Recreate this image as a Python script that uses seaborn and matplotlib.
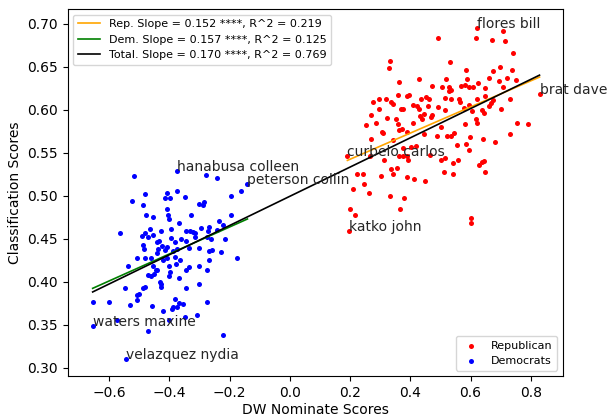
import numpy as np
import matplotlib
matplotlib.use("Agg")
import matplotlib.pyplot as plt
import seaborn as sns
from matplotlib.lines import Line2D

# -----------------------------------------
# Data
# -----------------------------------------
rep_x = [0.621, 0.707, 0.492, 0.618, 0.671, 0.714, 0.740, 0.333, 0.330, 0.532,
         0.585, 0.698, 0.674, 0.736, 0.363, 0.428, 0.519, 0.589, 0.581, 0.596,
         0.625, 0.662, 0.694, 0.722, 0.751, 0.472, 0.505, 0.530, 0.528, 0.536,
         0.567, 0.607, 0.647, 0.709, 0.388, 0.397, 0.359, 0.277, 0.295, 0.319,
         0.337, 0.341, 0.437, 0.452, 0.463, 0.514, 0.534, 0.561, 0.565, 0.621,
         0.649, 0.669, 0.674, 0.731, 0.297, 0.370, 0.377, 0.408, 0.423, 0.430,
         0.459, 0.492, 0.516, 0.578, 0.596, 0.605, 0.638, 0.662, 0.700, 0.268,
         0.324, 0.352, 0.432, 0.439, 0.446, 0.470, 0.472, 0.618, 0.645, 0.253,
         0.286, 0.359, 0.372, 0.408, 0.503, 0.581, 0.623, 0.753, 0.791, 0.306,
         0.310, 0.363, 0.388, 0.446, 0.490, 0.523, 0.536, 0.545, 0.598, 0.643,
         0.682, 0.731, 0.270, 0.344, 0.375, 0.401, 0.419, 0.554, 0.585, 0.596,
         0.191, 0.266, 0.313, 0.361, 0.375, 0.390, 0.392, 0.465, 0.501, 0.516,
         0.541, 0.558, 0.629, 0.638, 0.645, 0.649, 0.222, 0.244, 0.304, 0.335,
         0.344, 0.357, 0.390, 0.412, 0.450, 0.512, 0.541, 0.211, 0.246, 0.262,
         0.333, 0.379, 0.200, 0.217, 0.366, 0.601, 0.603, 0.197, 0.829]
rep_y = [0.695, 0.692, 0.683, 0.683, 0.681, 0.680, 0.666, 0.657, 0.648, 0.655,
         0.646, 0.650, 0.645, 0.646, 0.632, 0.636, 0.636, 0.636, 0.629, 0.627,
         0.631, 0.637, 0.633, 0.637, 0.635, 0.628, 0.627, 0.626, 0.622, 0.623,
         0.628, 0.626, 0.625, 0.626, 0.616, 0.617, 0.617, 0.609, 0.612, 0.612,
         0.609, 0.607, 0.612, 0.615, 0.612, 0.614, 0.612, 0.613, 0.609, 0.612,
         0.616, 0.608, 0.611, 0.613, 0.601, 0.601, 0.601, 0.606, 0.604, 0.601,
         0.604, 0.603, 0.600, 0.602, 0.605, 0.598, 0.600, 0.604, 0.601, 0.594,
         0.590, 0.589, 0.593, 0.589, 0.595, 0.591, 0.594, 0.589, 0.596, 0.582,
         0.585, 0.583, 0.577, 0.584, 0.580, 0.583, 0.584, 0.585, 0.583, 0.574,
         0.573, 0.576, 0.574, 0.572, 0.570, 0.570, 0.569, 0.573, 0.568, 0.566,
         0.563, 0.572, 0.566, 0.565, 0.556, 0.557, 0.558, 0.559, 0.560, 0.553,
         0.546, 0.546, 0.541, 0.546, 0.546, 0.546, 0.541, 0.547, 0.542, 0.544,
         0.538, 0.541, 0.536, 0.539, 0.540, 0.528, 0.525, 0.525, 0.523, 0.531,
         0.525, 0.532, 0.522, 0.519, 0.517, 0.528, 0.525, 0.508, 0.513, 0.503,
         0.500, 0.497, 0.484, 0.477, 0.484, 0.474, 0.468, 0.459, 0.618]

dem_x = [-0.518, -0.376, -0.279, -0.241, -0.482, -0.409, -0.376, -0.525, -0.414, -0.398,
         -0.350, -0.489, -0.303, -0.285, -0.288, -0.197, -0.161, -0.141, -0.407, -0.478,
         -0.456, -0.405, -0.403, -0.330, -0.197, -0.369, -0.237, -0.223, -0.564, -0.465,
         -0.480, -0.427, -0.394, -0.345, -0.332, -0.323, -0.314, -0.294, -0.268, -0.272,
         -0.243, -0.491, -0.471, -0.456, -0.443, -0.434, -0.425, -0.407, -0.396, -0.381,
         -0.363, -0.345, -0.314, -0.276, -0.261, -0.217, -0.489, -0.485, -0.438, -0.414,
         -0.387, -0.376, -0.336, -0.301, -0.268, -0.259, -0.230, -0.507, -0.480, -0.462,
         -0.443, -0.423, -0.407, -0.381, -0.365, -0.268, -0.177, -0.538, -0.456, -0.445,
         -0.441, -0.403, -0.378, -0.345, -0.334, -0.301, -0.274, -0.471, -0.462, -0.451,
         -0.432, -0.427, -0.401, -0.398, -0.369, -0.549, -0.487, -0.480, -0.507, -0.500,
         -0.507, -0.429, -0.345, -0.301, -0.655, -0.600, -0.531, -0.458, -0.383, -0.367,
         -0.356, -0.387, -0.376, -0.392, -0.274, -0.421, -0.655, -0.575, -0.403, -0.350,
         -0.308, -0.471, -0.223, -0.545]
dem_y = [0.523, 0.529, 0.524, 0.521, 0.502, 0.503, 0.506, 0.494, 0.497, 0.497,
         0.498, 0.489, 0.490, 0.493, 0.489, 0.500, 0.505, 0.514, 0.484, 0.477,
         0.475, 0.477, 0.473, 0.477, 0.477, 0.468, 0.470, 0.466, 0.456, 0.461,
         0.456, 0.459, 0.461, 0.459, 0.459, 0.458, 0.456, 0.462, 0.463, 0.459,
         0.460, 0.453, 0.452, 0.454, 0.446, 0.447, 0.441, 0.440, 0.451, 0.446,
         0.449, 0.447, 0.452, 0.452, 0.449, 0.449, 0.443, 0.438, 0.438, 0.437,
         0.436, 0.438, 0.439, 0.439, 0.436, 0.437, 0.435, 0.428, 0.427, 0.428,
         0.433, 0.425, 0.428, 0.429, 0.425, 0.425, 0.428, 0.418, 0.418, 0.413,
         0.414, 0.418, 0.420, 0.414, 0.417, 0.418, 0.414, 0.408, 0.407, 0.409,
         0.400, 0.397, 0.406, 0.411, 0.404, 0.392, 0.392, 0.394, 0.384, 0.385,
         0.379, 0.394, 0.393, 0.397, 0.376, 0.376, 0.373, 0.372, 0.380, 0.375,
         0.374, 0.370, 0.371, 0.368, 0.376, 0.366, 0.348, 0.355, 0.355, 0.359,
         0.361, 0.343, 0.338, 0.310]

# named members (text is anchored on their point)
name_labels = ["flores bill", "brat dave", "curbelo carlos", "katko john",
               "hanabusa colleen", "peterson collin", "waters maxine", "velazquez nydia"]
name_x = [0.621, 0.829, 0.191, 0.197, -0.376, -0.141, -0.655, -0.545]
name_y = [0.695, 0.618, 0.546, 0.459, 0.529, 0.514, 0.348, 0.310]

# fitted lines: (slope, intercept, r^2) as shown in the legend
fit_names = ["Rep.", "Dem.", "Total."]
fit_slope = [0.152, 0.157, 0.170]
fit_intercept = [0.512, 0.495, 0.4993]
fit_r2 = [0.219, 0.125, 0.769]
fit_colors = ["orange", "green", "black"]

# -----------------------------------------
# Plot
# -----------------------------------------
fig, ax = plt.subplots(figsize=(6.07, 4.17), dpi=100)
fig.subplots_adjust(left=0.1115, right=0.927, top=0.978, bottom=0.098)

sns.scatterplot(x=rep_x, y=rep_y, color="red", s=13, linewidth=0, ax=ax, label="Republican")
sns.scatterplot(x=dem_x, y=dem_y, color="blue", s=13, linewidth=0, ax=ax, label="Democrats")
scatter_handles, scatter_labels = ax.get_legend_handles_labels()

ranges = [(min(rep_x), max(rep_x)), (min(dem_x), max(dem_x)),
          (min(dem_x + rep_x), max(dem_x + rep_x))]
line_handles = []
for name, m, b, r2, c, (lo, hi) in zip(fit_names, fit_slope, fit_intercept, fit_r2, fit_colors, ranges):
    xs = np.array([lo, hi])
    ax.plot(xs, m * xs + b, color=c, linewidth=1.2)
    line_handles.append(Line2D([], [], color=c, linewidth=1.2,
                               label=f"{name} Slope = {m:.3f} ****, R^2 = {r2:.3f}"))

for lab, x, y in zip(name_labels, name_x, name_y):
    ax.text(x, y, lab, fontsize=10, color="#262626")

leg1 = ax.legend(handles=line_handles, loc="upper left", fontsize=8)
ax.add_artist(leg1)
ax.legend(scatter_handles, scatter_labels, loc="lower right", fontsize=8)

ax.set_xlim(-0.738, 0.906)
ax.set_ylim(0.290, 0.717)
ax.set_xticks([-0.6, -0.4, -0.2, 0.0, 0.2, 0.4, 0.6, 0.8])
ax.set_yticks([0.30, 0.35, 0.40, 0.45, 0.50, 0.55, 0.60, 0.65, 0.70])
ax.set_xlabel("DW Nominate Scores", labelpad=2.5)
ax.set_ylabel("Classification Scores")

fig.savefig("out.png", dpi=100)
